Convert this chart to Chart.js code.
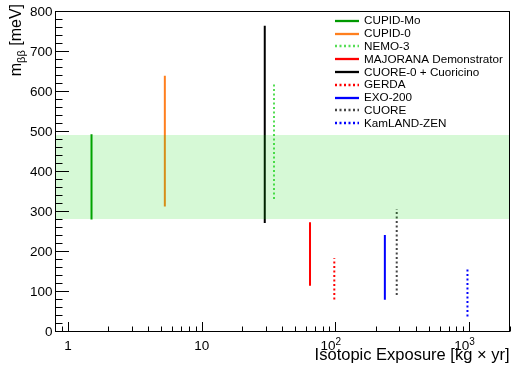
<!DOCTYPE html>
<html><head><meta charset="utf-8">
<script src="https://cdn.jsdelivr.net/npm/chart.js@4/dist/chart.umd.min.js"></script>
<style>html,body{margin:0;padding:0;background:#fff}#c{display:block}</style>
</head><body>
<canvas id="c" width="512" height="368"></canvas>
<script>
// ---- data ----
const experiments = ['CUPID-Mo','CUPID-0','NEMO-3','MAJORANA Demonstrator','CUORE-0 + Cuoricino','GERDA','EXO-200','CUORE','KamLAND-ZEN'];
const exposures   = [1.5, 5.3, 34.7, 64.5, 29.6, 98, 234, 287, 970];
const lowerLimits = [279, 311, 330, 113, 270, 79, 78, 90, 36];
const upperLimits = [492, 638, 622, 272, 763, 182, 240, 305, 157];
const lineColors  = ['#009900','#ff7f1e','#55dd55','#ff0000','#000000','#ff0000','#0000ff','#444444','#0000ff'];
const dottedLine  = [false, false, true, false, false, true, false, true, true];
const bandRange   = [280, 490];
const xRange      = [0.8, 2000];
const yRange      = [0, 800];
const yTickLabels = ['0','100','200','300','400','500','600','700','800'];
const xTickValues = [1, 10, 100, 1000];
const xTickLabels = [['1',''],['10',''],['10','2'],['10','3']];
const xTitle = 'Isotopic Exposure [kg \u00d7 yr]';
const yTitle = ['m', '\u03b2\u03b2', ' [meV]'];

const FONT = '"Liberation Sans", Arial, Helvetica, sans-serif';
const DOT = [2, 2.5];

const datasets = [];
// band (drawn last -> on top, translucent)
datasets.push({ data: [{x: xRange[0], y: bandRange[0]}, {x: xRange[1], y: bandRange[0]}],
  borderWidth: 0, borderColor: 'rgba(0,0,0,0)', pointRadius: 0, fill: false });
datasets.push({ data: [{x: xRange[0], y: bandRange[1]}, {x: xRange[1], y: bandRange[1]}],
  borderWidth: 0, borderColor: 'rgba(0,0,0,0)', pointRadius: 0, fill: '-1',
  backgroundColor: 'rgba(0,220,0,0.16)' });
experiments.forEach((name, i) => {
  datasets.push({
    label: name,
    data: [{x: exposures[i], y: lowerLimits[i]}, {x: exposures[i], y: upperLimits[i]}],
    borderColor: lineColors[i], borderWidth: 2, borderDash: dottedLine[i] ? DOT : [],
    borderCapStyle: 'butt', pointRadius: 0, fill: false
  });
});

const decor = {
  id: 'decor',
  afterDraw(chart) {
    const ctx = chart.ctx, a = chart.chartArea;
    const xs = chart.scales.x, ys = chart.scales.y;
    ctx.save();
    ctx.strokeStyle = '#000'; ctx.lineWidth = 1;
    // frame
    ctx.strokeRect(Math.round(a.left) + 0.5, Math.round(a.top) + 0.5,
                   Math.round(a.right - a.left) - 1, Math.round(a.bottom - a.top));
    const L = Math.round(a.left) + 0.5, B = Math.round(a.bottom) + 0.5;
    // y ticks
    ctx.beginPath();
    for (let v = yRange[0]; v <= yRange[1]; v += 20) {
      const y = Math.round(ys.getPixelForValue(v)) + 0.5;
      const len = (v % 100 === 0) ? 13.5 : 7;
      ctx.moveTo(L, y); ctx.lineTo(L + len, y);
    }
    // x ticks
    for (let d = 0.1; d <= 1000; d *= 10) {
      for (let m = 1; m <= 9; m++) {
        const v = +(m * d).toPrecision(3);
        if (v < xRange[0] || v > xRange[1]) continue;
        const x = Math.round(xs.getPixelForValue(v)) + 0.5;
        const len = (m === 1) ? 9.5 : 5;
        ctx.moveTo(x, B); ctx.lineTo(x, B - len);
      }
    }
    ctx.stroke();
    // y labels
    ctx.fillStyle = '#000';
    ctx.font = '13.5px ' + FONT;
    ctx.textAlign = 'right'; ctx.textBaseline = 'middle';
    yTickLabels.forEach(t => {
      ctx.fillText(t, a.left - 2.5, ys.getPixelForValue(+t) + 1);
    });
    // x labels
    ctx.textBaseline = 'alphabetic'; ctx.textAlign = 'left';
    xTickValues.forEach((v, i) => {
      const [base, sup] = xTickLabels[i];
      ctx.font = '13.5px ' + FONT;
      const wb = ctx.measureText(base).width;
      const x0 = xs.getPixelForValue(v) - (sup ? wb : wb / 2);
      ctx.fillText(base, x0, 350);
      if (sup) { ctx.font = '10px ' + FONT; ctx.fillText(sup, x0 + wb, 344.5); }
    });
    // x title
    ctx.font = '16.5px ' + FONT; ctx.textAlign = 'right';
    ctx.fillText(xTitle, 509.5, 360);
    // y title (rotated)
    ctx.save();
    ctx.translate(21, 4);
    ctx.rotate(-Math.PI / 2);
    ctx.textAlign = 'left';
    ctx.font = '16px ' + FONT; const w0 = ctx.measureText(yTitle[0]).width;
    ctx.font = '11px ' + FONT; const w1 = ctx.measureText(yTitle[1]).width;
    ctx.font = '16px ' + FONT; const w2 = ctx.measureText(yTitle[2]).width;
    let x = -(w0 + w1 + w2);
    ctx.fillText(yTitle[0], x, 0); x += w0;
    ctx.font = '11px ' + FONT; ctx.fillText(yTitle[1], x, 3.5); x += w1;
    ctx.font = '16px ' + FONT; ctx.fillText(yTitle[2], x, 0);
    ctx.restore();
    // legend
    ctx.font = '11.7px ' + FONT; ctx.textAlign = 'left'; ctx.textBaseline = 'middle';
    experiments.forEach((name, i) => {
      const y = 20.7 + i * 12.8;
      ctx.beginPath();
      ctx.strokeStyle = lineColors[i]; ctx.lineWidth = 2.3;
      ctx.setLineDash(dottedLine[i] ? DOT : []);
      ctx.moveTo(335, Math.round(y)); ctx.lineTo(359, Math.round(y));
      ctx.stroke();
      ctx.setLineDash([]);
      ctx.fillStyle = '#000';
      ctx.fillText(name, 364, y + 0.5);
    });
    ctx.restore();
  }
};

new Chart(document.getElementById('c'), {
  type: 'line',
  data: { datasets },
  options: {
    responsive: false, animation: false, devicePixelRatio: 1,
    layout: { padding: { left: 55, top: 11, right: 2.5, bottom: 37 } },
    parsing: true,
    plugins: { legend: { display: false }, tooltip: { enabled: false }, filler: { propagate: false } },
    scales: {
      x: { type: 'logarithmic', min: xRange[0], max: xRange[1], display: false },
      y: { type: 'linear', min: yRange[0], max: yRange[1], display: false }
    }
  },
  plugins: [decor]
});
</script>
</body></html>
